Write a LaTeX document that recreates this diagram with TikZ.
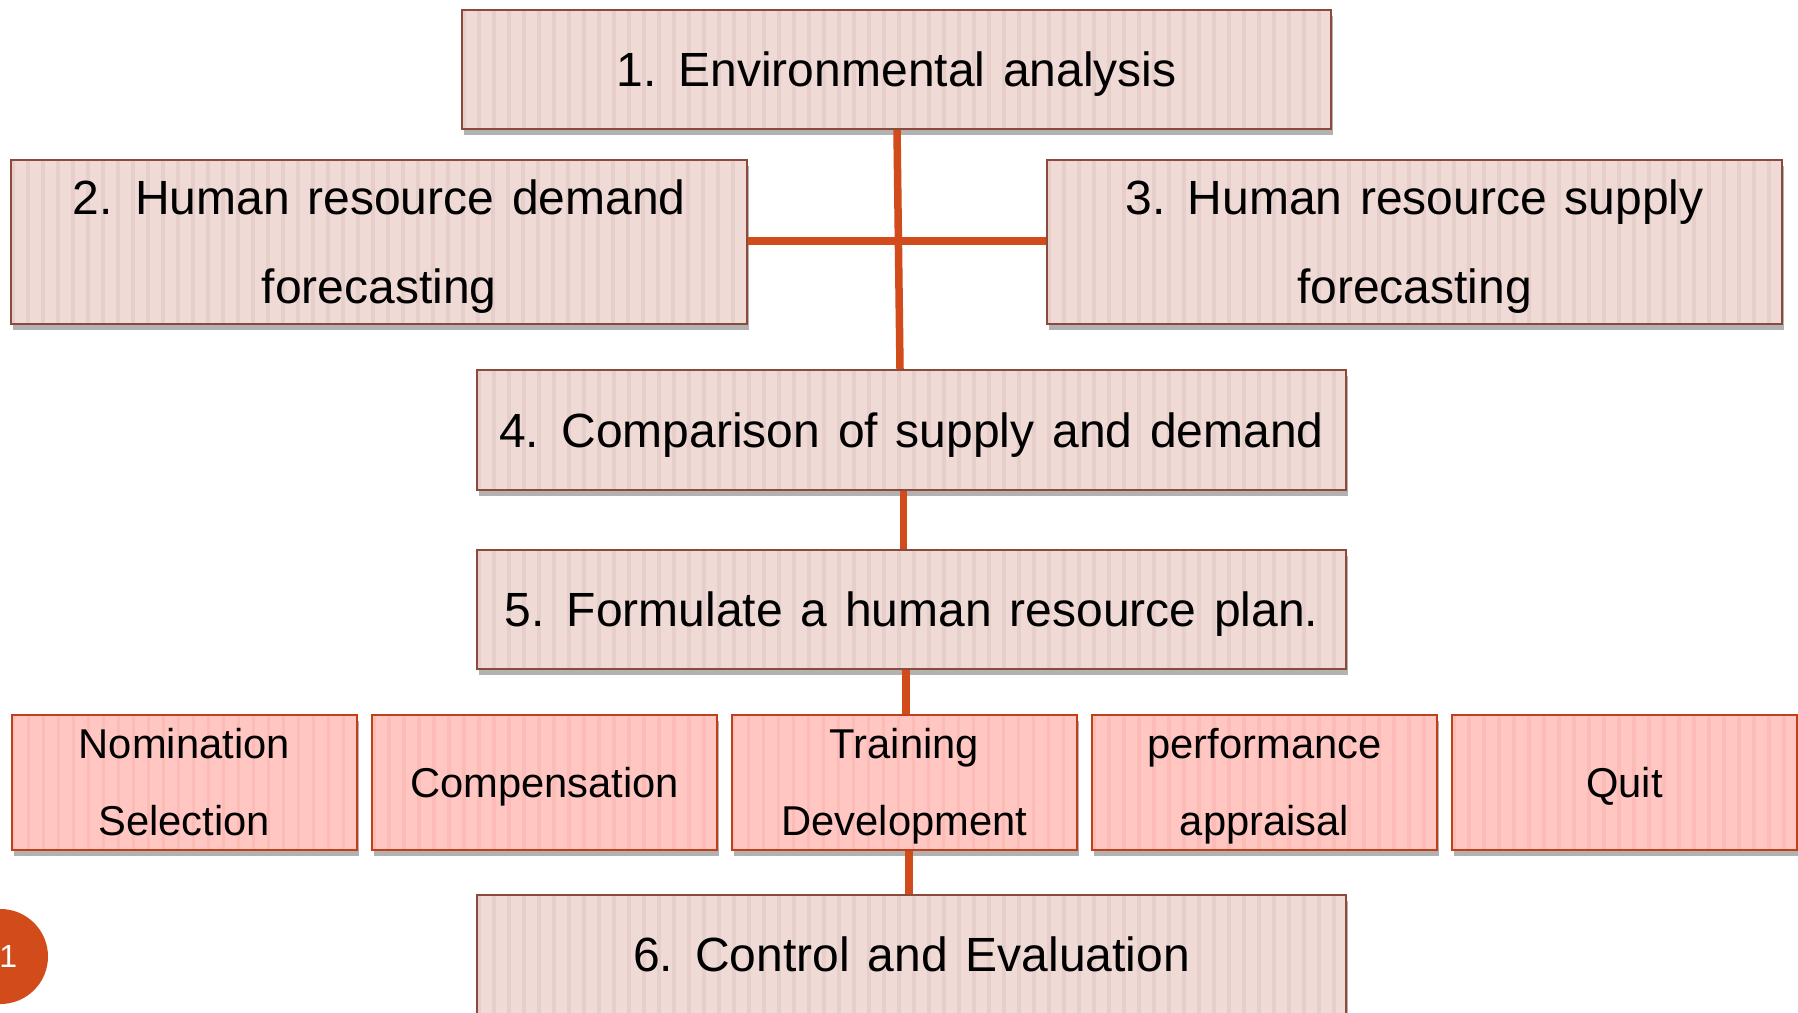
\documentclass[tikz,border=0pt]{standalone}
\usepackage{fontspec}
\setmainfont{Liberation Sans}
\usetikzlibrary{shadows}
\definecolor{bigfill}{HTML}{EFDAD6}
\definecolor{bigstripe}{HTML}{E6CFCA}
\definecolor{bigborder}{HTML}{8C4A3C}
\definecolor{rowfill}{HTML}{FFC6C2}
\definecolor{rowstripe}{HTML}{FBBCB7}
\definecolor{rowborder}{HTML}{C0401A}
\definecolor{linkcol}{HTML}{D24B1A}
\newcommand\bigboxfont{\fontsize{48}{89}\selectfont\spaceskip 17.8pt\relax}
\newcommand\rowboxfont{\fontsize{41.7}{77}\selectfont}
\tikzset{
  stripes/.style={path picture={
    \foreach \k in {0,15,...,900}{
      \fill[#1] ([xshift=\k pt]path picture bounding box.south west) rectangle ++(3.5pt,400pt);
    }}},
  boxbase/.style={rectangle, line width=2pt, align=center, inner sep=0pt,
    drop shadow={shadow xshift=2pt, shadow yshift=-6pt, fill=black, opacity=0.3}},
  bigbox/.style={boxbase, draw=bigborder, fill=bigfill, stripes=bigstripe,
    minimum width=869pt, font=\bigboxfont,
    text height=34.4pt, text depth=0pt},
  bigtwo/.style={bigbox, text height=123.4pt},
  rowbox/.style={boxbase, draw=rowborder, fill=rowfill, stripes=rowstripe,
    minimum width=345pt, minimum height=135pt, font=\rowboxfont,
    text height=29.9pt, text depth=0pt},
  rowtwo/.style={rowbox, text height=106.9pt},
  link/.style={draw=linkcol, line width=7.5pt}
}
\begin{document}
\begin{tikzpicture}[x=1pt,y=-1pt]
\useasboundingbox (0,0) rectangle (1798,1012);
\fill[white] (0,0) rectangle (1798,1012);

\node[bigbox, minimum height=119pt] (n1) at (896.5,69.5) {1. Environmental analysis};
\node[bigtwo, minimum width=735.5pt, minimum height=164pt] (n2) at (379.2,242) {2. Human resource demand\\forecasting};
\node[bigtwo, minimum width=735pt, minimum height=164pt] (n3) at (1414.5,242) {3. Human resource supply\\forecasting};
\node[bigbox, minimum height=120pt] (n4) at (911.5,430) {4. Comparison of supply and demand};
\node[bigbox, minimum height=119pt] (n5) at (911.5,609.5) {5. Formulate a human resource plan.};

\node[rowtwo] (r1) at (184.3,782.5) {Nomination\\Selection};
\node[rowbox] (r2) at (544.5,782.5) {Compensation};
\node[rowtwo] (r3) at (904.3,782.5) {Training\\Development};
\node[rowtwo] (r4) at (1264.5,782.5) {performance\\appraisal};
\node[rowbox] (r5) at (1624.5,782.5) {Quit};

\node[bigbox, minimum height=119pt] (n6) at (911.5,954.5) {6. Control and Evaluation};

\draw[link] ([yshift=1pt]n2.east) -- ([yshift=1pt]n3.west);
\draw[link] ([xshift=0.5pt]n1.south) -- ([xshift=-11.5pt]n4.north);
\draw[link] ([xshift=-8pt]n4.south) -- ([xshift=-8pt]n5.north);
\draw[link] ([xshift=-5.5pt]n5.south) -- ([xshift=1.7pt]r3.north);
\draw[link] ([xshift=4.7pt]r3.south) -- ([xshift=-2.5pt]n6.north);

\node[circle, fill=linkcol, minimum size=95pt, inner sep=0pt] (badge) at (0.5,956.5) {};
\node[text=white, font=\fontsize{32}{34}\selectfont, anchor=center] (badgenum) at (8.3,956.5) {1};
\end{tikzpicture}
\end{document}
